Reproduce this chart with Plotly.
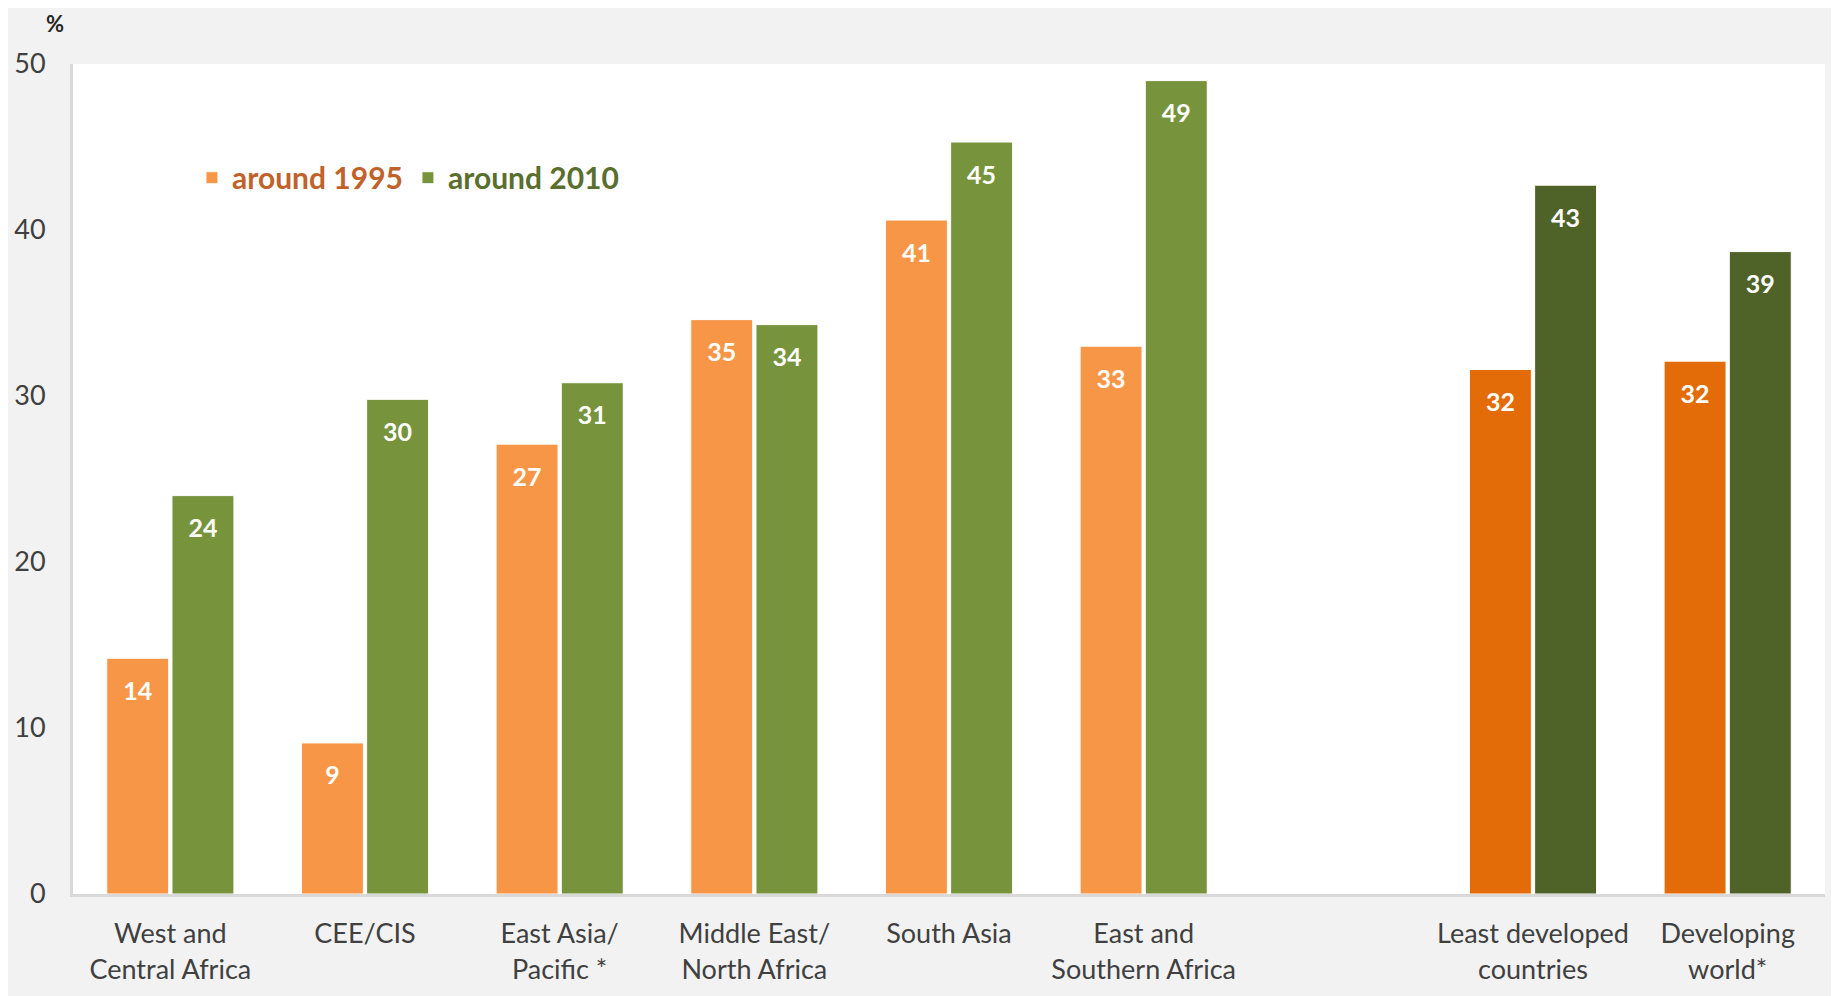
import plotly.graph_objects as go

categories = ["West and<br>Central Africa", "CEE/CIS", "East Asia/<br>Pacific *",
              "Middle East/<br>North Africa", "South Asia", "East and<br>Southern Africa",
              " ", "Least developed<br>countries", "Developing<br>world*"]
values_1995 = [14.2, 9.1, 27.1, 34.6, 40.6, 33.0, None, 31.6, 32.1]
values_2010 = [24.0, 29.8, 30.8, 34.3, 45.3, 49.0, None, 42.7, 38.7]
colors_1995 = ["#F79646"] * 7 + ["#E36C09", "#E36C09"]
colors_2010 = ["#77933C"] * 7 + ["#4F6228", "#4F6228"]
y_ticks = [0, 10, 20, 30, 40, 50]

FONT = "Lato"
LABEL_TMPL = "<span style='font-size:6px;color:rgba(0,0,0,0)'>.</span><br>%{y:.0f}"

fig = go.Figure()
fig.add_trace(go.Bar(
    x=categories, y=values_1995, name="<span style='color:#C0622A'>around 1995</span>",
    marker=dict(color=colors_1995, line=dict(color="white", width=1)),
    texttemplate=LABEL_TMPL, textposition="inside", insidetextanchor="end",
    textfont=dict(family=FONT, size=25, color="white", weight="bold"),
    textangle=0, hoverinfo="x+y",
))
fig.add_trace(go.Bar(
    x=categories, y=values_2010, name="<span style='color:#5A6E2E'>around 2010</span>",
    marker=dict(color=colors_2010, line=dict(color="white", width=1)),
    texttemplate=LABEL_TMPL, textposition="inside", insidetextanchor="end",
    textfont=dict(family=FONT, size=25, color="white", weight="bold"),
    textangle=0, hoverinfo="x+y",
))

fig.update_layout(
    width=1839, height=996,
    paper_bgcolor="#F2F2F2", plot_bgcolor="white",
    margin=dict(l=65, r=22, t=56, b=110),
    barmode="group", bargap=0.33, bargroupgap=0.05,
    font=dict(family=FONT, size=27, color="#404040"),
    showlegend=True,
    legend=dict(orientation="h", x=0.0679, y=0.863, xanchor="left", yanchor="middle",
                bgcolor="rgba(0,0,0,0)", font=dict(family=FONT, size=30, weight="bold"),
                itemwidth=30, traceorder="normal"),
    xaxis=dict(showline=True, linecolor="#D9D9D9", linewidth=3, ticks="",
               tickfont=dict(family=FONT, size=27, color="#404040"),
               showgrid=False, ticklabelstandoff=14, automargin=False),
    yaxis=dict(range=[0, 50], tickvals=y_ticks, showgrid=False, zeroline=False,
               showline=True, linecolor="#D9D9D9", linewidth=3, ticks="",
               tickfont=dict(family=FONT, size=27, color="#404040"), ticklabelstandoff=19,
               automargin=False),
    annotations=[dict(text="%", xref="paper", yref="paper", x=-0.0103, y=1.0, yshift=41,
                      xanchor="center", yanchor="middle", showarrow=False,
                      font=dict(family=FONT, size=22, color="#262626", weight="bold"))],
)

fig.write_html("out.html")
